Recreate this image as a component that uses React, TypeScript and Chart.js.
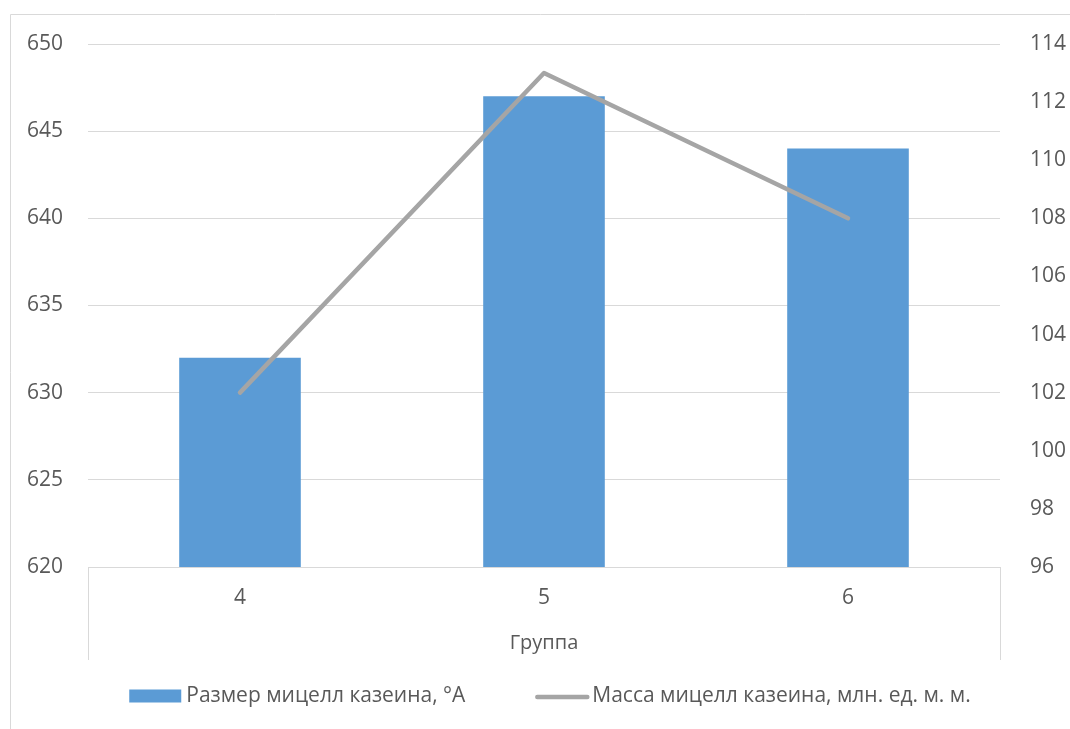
import React, { useEffect, useRef } from "react";
import { Chart, registerables } from "chart.js";

Chart.register(...registerables);

const categories = ["4", "5", "6"];
const sizeValues = [632, 647, 644];
const massValues = [102, 113, 108];
const sizeLabel = "Размер мицелл казеина, °А";
const massLabel = "Масса мицелл казеина, млн. ед. м. м.";
const axisTitle = "Группа";
const leftAxis = { min: 620, max: 650, step: 5 };
const rightAxis = { min: 96, max: 114, step: 2 };

const FONT = "'Open Sans', 'Noto Sans', sans-serif";
const TEXT = "#595959";
const GRID = "#D9D9D9";
const BAR = "#5B9BD5";
const LINE = "#A5A5A5";

const framePlugin = {
  id: "frame",
  beforeDraw(chart: any) {
    const ctx = chart.ctx;
    ctx.save();
    ctx.strokeStyle = GRID;
    ctx.lineWidth = 1;
    ctx.beginPath();
    ctx.moveTo(10.5, chart.height + 5);
    ctx.lineTo(10.5, 14.5);
    ctx.lineTo(chart.width + 5, 14.5);
    ctx.stroke();
    ctx.restore();
  },
  afterDraw(chart: any) {
    const ctx = chart.ctx;
    const area = chart.chartArea;
    const x = chart.scales.x;
    ctx.save();
    ctx.strokeStyle = GRID;
    ctx.lineWidth = 1;
    ctx.beginPath();
    ctx.moveTo(Math.round(area.left) + 0.5, area.bottom);
    ctx.lineTo(Math.round(area.left) + 0.5, x.bottom);
    ctx.moveTo(Math.round(area.right) + 0.5, area.bottom);
    ctx.lineTo(Math.round(area.right) + 0.5, x.bottom);
    ctx.stroke();

    // legend
    const ds = chart.data.datasets;
    ctx.font = `21px ${FONT}`;
    ctx.textBaseline = "middle";
    ctx.fillStyle = TEXT;
    const w1 = ctx.measureText(ds[0].label).width;
    const w2 = ctx.measureText(ds[1].label).width;
    const markW = 52;
    const gapText = 5;
    const gapItems = 70;
    const total = markW + gapText + w1 + gapItems + markW + gapText + w2;
    const cy = x.bottom + 36;
    let cx = 550 - total / 2;
    ctx.fillStyle = ds[0].backgroundColor;
    ctx.fillRect(cx, cy - 6.5, markW, 13);
    ctx.fillStyle = TEXT;
    ctx.fillText(ds[0].label, cx + markW + gapText, cy);
    cx += markW + gapText + w1 + gapItems;
    ctx.strokeStyle = ds[1].borderColor;
    ctx.lineWidth = 4.5;
    ctx.lineCap = "round";
    ctx.beginPath();
    ctx.moveTo(cx + 2, cy + 1);
    ctx.lineTo(cx + markW, cy + 1);
    ctx.stroke();
    ctx.fillText(ds[1].label, cx + markW + gapText, cy);
    ctx.restore();
  },
};

export default function App() {
  const ref = useRef<HTMLCanvasElement | null>(null);
  useEffect(() => {
    if (!ref.current) return;
    const chart = new Chart(ref.current, {
      type: "bar",
      data: {
        labels: categories,
        datasets: [
          {
            type: "bar",
            label: sizeLabel,
            data: sizeValues,
            backgroundColor: BAR,
            borderWidth: 0,
            categoryPercentage: 1,
            barPercentage: 0.4,
            yAxisID: "y",
            order: 1,
          },
          {
            type: "line",
            label: massLabel,
            data: massValues,
            borderColor: LINE,
            backgroundColor: LINE,
            borderWidth: 4.5,
            borderCapStyle: "round",
            borderJoinStyle: "round",
            pointRadius: 0,
            pointHoverRadius: 0,
            tension: 0,
            fill: false,
            yAxisID: "y1",
            order: 0,
          },
        ] as any,
      },
      options: {
        responsive: false,
        animation: false,
        layout: { padding: { left: 0, right: 0, top: 44, bottom: 69 } },
        plugins: {
          legend: { display: false },
          tooltip: { enabled: false },
        },
        scales: {
          x: {
            offset: true,
            grid: { display: false, drawTicks: false },
            border: { display: true, color: GRID, width: 1 },
            ticks: {
              color: TEXT,
              font: { family: FONT, size: 21 },
              padding: 18,
              maxRotation: 0,
            },
            title: {
              display: true,
              text: axisTitle,
              color: TEXT,
              font: { family: FONT, size: 20 },
              padding: { top: 0, bottom: 5 },
            },
            afterFit: (s: any) => {
              s.height = 93;
            },
          },
          y: {
            position: "left",
            min: leftAxis.min,
            max: leftAxis.max,
            grid: { color: GRID, lineWidth: 1, drawTicks: false },
            border: { display: false },
            ticks: {
              stepSize: leftAxis.step,
              color: TEXT,
              font: { family: FONT, size: 21 },
              padding: 25,
            },
            afterFit: (s: any) => {
              s.width = 88;
            },
          },
          y1: {
            position: "right",
            min: rightAxis.min,
            max: rightAxis.max,
            grid: { display: false, drawTicks: false },
            border: { display: false },
            ticks: {
              stepSize: rightAxis.step,
              color: TEXT,
              font: { family: FONT, size: 21 },
              padding: 30,
            },
            afterFit: (s: any) => {
              s.width = 70;
            },
          },
        },
      } as any,
      plugins: [framePlugin],
    });
    return () => chart.destroy();
  }, []);
  return (
    <div style={{ position: "absolute", left: 0, top: 0, width: 1070, height: 729, background: "#fff" }}>
      <canvas ref={ref} width={1070} height={729} />
    </div>
  );
}
